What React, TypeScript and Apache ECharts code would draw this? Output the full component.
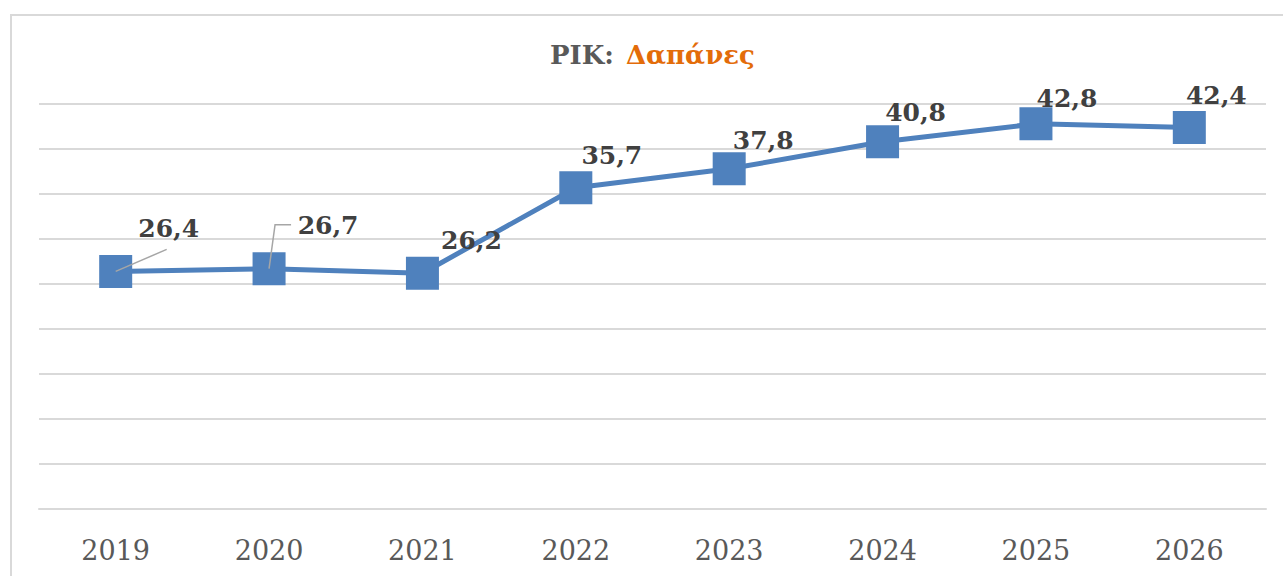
import React, { useEffect, useRef } from "react";
import * as echarts from "echarts";

const years = ["2019", "2020", "2021", "2022", "2023", "2024", "2025", "2026"];
const spending = [26.4, 26.7, 26.2, 35.7, 37.8, 40.8, 42.8, 42.4];
const labelShiftX = [53, 59, 49, 36, 34, 33, 31, 27];
const labelShiftY = [-43, -43, -33, -32, -28, -29, -25, -32];
// leader line bends, relative to the data point's pixel position
const leaderBends: Record<number, number[][]> = {
  0: [[0, 0], [51, -22]],
  1: [[0, 0], [6, -44], [22, -44]],
};

const SERIF = "'DejaVu Serif', 'Liberation Serif', serif";

export default function App() {
  const ref = useRef<HTMLDivElement>(null);
  useEffect(() => {
    const chart = echarts.init(ref.current!, null, { renderer: "svg" });
    chart.setOption({
      animation: false,
      backgroundColor: "#ffffff",
      title: {
        text: "{a|PIK:} {b|Δαπάνες}",
        left: 545,
        top: 37,
        textStyle: {
          rich: {
            a: { fontFamily: SERIF, fontWeight: "bold", fontSize: 26, color: "#595959", padding: [0, 7, 0, 0] },
            b: { fontFamily: SERIF, fontWeight: "bold", fontSize: 26, color: "#e36c09" },
          },
        },
      },
      grid: { left: 39, right: 17, top: 104, bottom: 67 },
      xAxis: {
        type: "category",
        data: years,
        boundaryGap: true,
        axisLine: { show: true, lineStyle: { color: "#d9d9d9", width: 2 } },
        axisTick: { show: false },
        axisLabel: {
          fontFamily: SERIF,
          fontSize: 27,
          color: "#595959",
          margin: 28,
        },
      },
      yAxis: {
        type: "value",
        min: 0,
        max: 45,
        interval: 5,
        axisLabel: { show: false },
        axisLine: { show: false },
        axisTick: { show: false },
        splitLine: { lineStyle: { color: "#d9d9d9", width: 2 } },
      },
      series: [
        {
          type: "line",
          data: spending,
          symbol: "rect",
          symbolSize: 33,
          itemStyle: { color: "#4f81bd" },
          lineStyle: { color: "#4f81bd", width: 5 },
          label: {
            show: true,
            position: "inside",
            fontFamily: SERIF,
            fontWeight: "bold",
            fontSize: 25,
            color: "#404040",
            formatter: (p: any) => String(p.value).replace(".", ","),
          },
          labelLayout: (p: any) => ({
            dx: labelShiftX[p.dataIndex],
            dy: labelShiftY[p.dataIndex],
          }),
          z: 3,
        },
      ],
    });

    const graphics: any[] = [
      {
        type: "rect",
        shape: { x: 11, y: 15, width: 1400, height: 700 },
        style: { fill: "none", stroke: "#d9d9d9", lineWidth: 2 },
        silent: true,
        z: 0,
      },
    ];
    Object.keys(leaderBends).forEach((k) => {
      const i = Number(k);
      const [px, py] = chart.convertToPixel({ gridIndex: 0 }, [i, spending[i]]) as number[];
      graphics.push({
        type: "polyline",
        shape: { points: leaderBends[i].map(([dx, dy]) => [px + dx, py + dy]) },
        style: { stroke: "#a6a6a6", lineWidth: 1.5, fill: "none" },
        silent: true,
        z: 10,
      });
    });
    chart.setOption({ graphic: graphics });

    return () => chart.dispose();
  }, []);
  return (
    <div
      ref={ref}
      style={{ position: "fixed", left: 0, top: 0, width: 1283, height: 576 }}
    />
  );
}
